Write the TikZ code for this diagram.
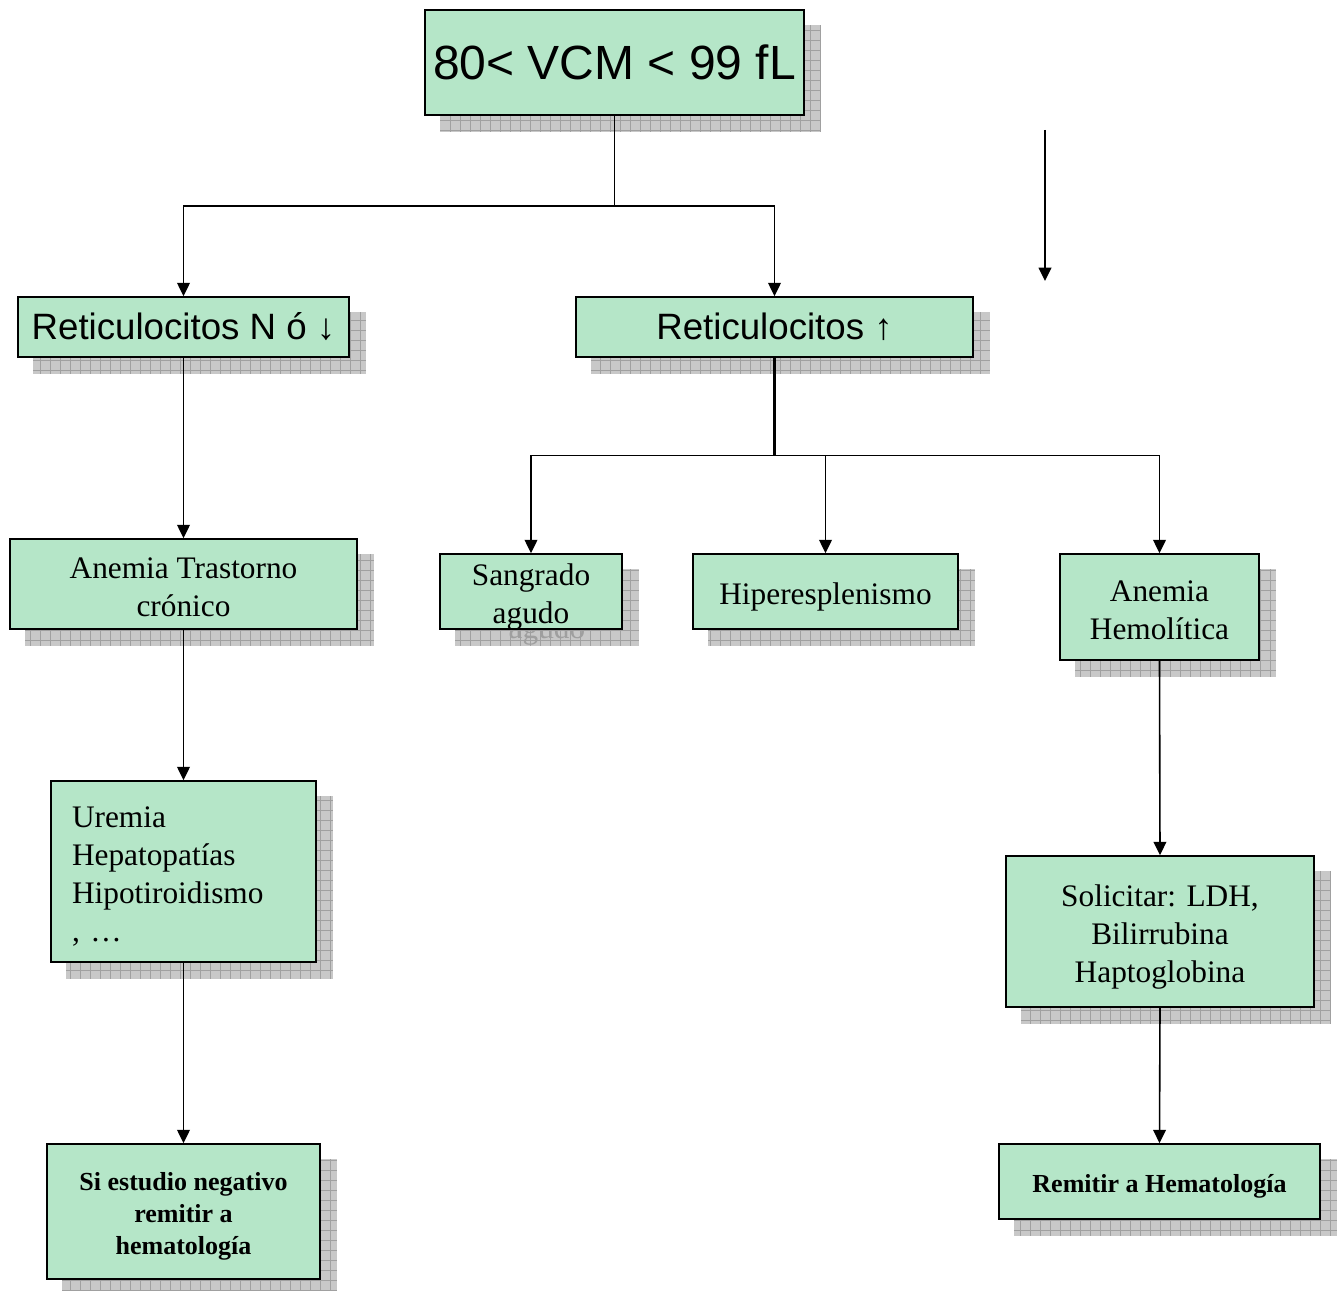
\documentclass[tikz,border=0pt]{standalone}
\usepackage{fontspec}
\setmainfont{Liberation Serif}
\newfontfamily\arialf{Liberation Sans}
\usetikzlibrary{arrows.meta,backgrounds}
\definecolor{boxgreen}{RGB}{181,230,200}
\definecolor{shadowbase}{RGB}{200,200,200}
\definecolor{shadowline}{RGB}{160,160,160}
\newcommand{\mytopstrut}{\rule{0pt}{26pt}}
\newcommand{\mybotstrut}{\rule[-6pt]{0pt}{0pt}}
\newcommand{\mybtopstrut}{\rule{0pt}{21pt}}
\newcommand{\mybbotstrut}{\rule[-5pt]{0pt}{0pt}}
\tikzset{
  fbox/.style={draw=black, line width=1.2pt, fill=boxgreen, inner sep=0pt, align=center},
  bigsans/.style={font=\arialf\fontsize{36}{40}\selectfont},
  midsans/.style={font=\arialf\fontsize{27.5}{32}\selectfont},
  serifbox/.style={font=\fontsize{23.5}{28.5}\selectfont},
  boldbox/.style={font=\bfseries\fontsize{19.5}{24}\selectfont},
  ghosttext/.style={font=\fontsize{23.5}{28.5}\selectfont, text=gray!75, inner sep=0pt},
  conn/.style={draw=black, line width=1.2pt},
  arr/.style={conn, -{Triangle[length=10pt,width=9.5pt]}},
  shadowfill/.style={fill=shadowbase},
  shadowgrid/.style={draw=shadowline, line width=0.35pt},
}
\newcommand{\boxshadow}[1]{%
  \begin{pgfonlayer}{background}
    \fill[shadowfill] ([shift={(12pt,-12pt)}]#1.north west) rectangle ([shift={(12pt,-12pt)}]#1.south east);
    \begin{scope}
      \clip ([shift={(12pt,-12pt)}]#1.north west) rectangle ([shift={(12pt,-12pt)}]#1.south east);
      \draw[shadowgrid, step=7.5pt] ([shift={(12pt,-12pt)}]#1.north west) grid ([shift={(12pt,-12pt)}]#1.south east);
    \end{scope}
  \end{pgfonlayer}}
\begin{document}
\begin{tikzpicture}[x=0.75pt,y=-0.75pt]
\useasboundingbox (0,0) rectangle (1340,1291);

% nodes
\node[fbox, bigsans, minimum width=284.25pt, minimum height=78.75pt] (top) at (614.5,62.5) {80< VCM < 99 fL};
\node[fbox, midsans, minimum width=248.25pt, minimum height=45pt] (retn) at (183.5,327) {Reticulocitos N ó ↓};
\node[fbox, midsans, minimum width=297.75pt, minimum height=45pt] (retup) at (774.5,327) {Reticulocitos ↑};
\node[fbox, serifbox, minimum width=260.25pt, minimum height=67.5pt] (anemt) at (183.5,584) {\mytopstrut Anemia Trastorno\\crónico\mybotstrut};
\node[fbox, serifbox, inner ysep=-6pt, minimum width=136.5pt, minimum height=56.25pt] (sang) at (531,591.5) {\mytopstrut Sangrado\\agudo\mybotstrut};
\node[fbox, serifbox, minimum width=198.75pt, minimum height=56.25pt] (hiper) at (825.5,591.5) {\mytopstrut Hiperesplenismo\mybotstrut};
\node[fbox, serifbox, minimum width=149.25pt, minimum height=79.5pt] (anemh) at (1159.5,607) {\mytopstrut Anemia\\Hemolítica\mybotstrut};
\node[fbox, serifbox, align=left, text width=167.25pt, inner xsep=15.75pt, minimum height=135.75pt] (urem) at (183.5,871.5) {\mytopstrut Uremia\\Hepatopatías\\Hipotiroidismo\\, …\mybotstrut};
\node[fbox, serifbox, minimum width=231pt, minimum height=113.25pt] (solic) at (1160,931.5) {\mytopstrut Solicitar: LDH,\\Bilirrubina\\Haptoglobina\mybotstrut};
\node[fbox, boldbox, minimum width=204.75pt, minimum height=101.25pt] (siest) at (183.5,1211.5) {\mybtopstrut Si estudio negativo\\remitir a\\hematología\mybbotstrut};
\node[fbox, boldbox, minimum width=240.75pt, minimum height=56.25pt] (remit) at (1159.5,1181.5) {\mybtopstrut Remitir a Hematología\mybbotstrut};

% shadows
\boxshadow{top}
\boxshadow{retn}
\boxshadow{retup}
\boxshadow{anemt}
\boxshadow{sang}
\boxshadow{hiper}
\boxshadow{anemh}
\boxshadow{urem}
\boxshadow{solic}
\boxshadow{siest}
\boxshadow{remit}
\begin{pgfonlayer}{background}
  \node[ghosttext] (ghost) at (547,631) {agudo};
\end{pgfonlayer}

% connectors
\coordinate (j1) at (614.5,206);
\draw[conn] (top.south) -- (j1);
\draw[arr] (j1) -| (retn.north);
\draw[arr] (j1) -| (retup.north);

\coordinate (j2) at (774.5,455.5);
\draw[conn, line width=2pt] (retup.south) -- (j2);
\draw[arr] (j2) -| (sang.north);
\draw[arr] (j2) -| (hiper.north);
\draw[arr] (j2) -| (anemh.north);

\draw[arr] (retn.south) -- (anemt.north);
\draw[arr] (anemt.south) -- (urem.north);
\draw[arr] (urem.south) -- (siest.north);
\draw[arr] (anemh.south) -- (solic.north);
\draw[arr] (solic.south) -- (remit.north);

\coordinate (fa) at (1045,130);
\coordinate (fb) at (1045,281);
\draw[arr] (fa) -- (fb);
\end{tikzpicture}
\end{document}
